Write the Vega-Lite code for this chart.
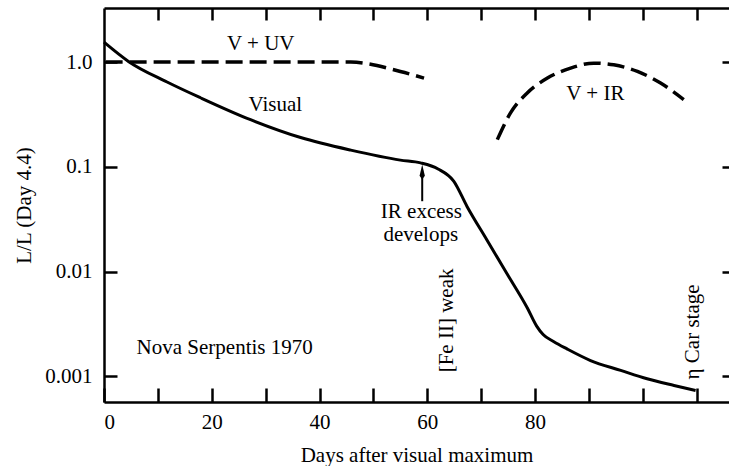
{
  "$schema": "https://vega.github.io/schema/vega-lite/v6.json",
  "width": 625,
  "height": 394,
  "autosize": {"type": "none"},
  "padding": {"left": 104, "top": 8, "right": 0, "bottom": 64},
  "background": "white",
  "config": {
    "view": {"stroke": null},
    "font": "Liberation Serif",
    "axis": {
      "grid": false,
      "domainColor": "black",
      "domainWidth": 2.5,
      "tickColor": "black",
      "tickWidth": 2.5,
      "labelFont": "Liberation Serif",
      "labelFontSize": 21,
      "labelColor": "black",
      "titleFont": "Liberation Serif",
      "titleFontSize": 21,
      "titleFontWeight": "normal",
      "titleColor": "black"
    }
  },
  "resolve": {"axis": {"x": "independent", "y": "independent"}},
  "datasets": {
    "curves": [
      {"series": "Visual", "day": 0, "value": 1.55},
      {"series": "Visual", "day": 4.6, "value": 1.01},
      {"series": "Visual", "day": 11.7, "value": 0.646},
      {"series": "Visual", "day": 17.9, "value": 0.457},
      {"series": "Visual", "day": 27.2, "value": 0.282},
      {"series": "Visual", "day": 36.5, "value": 0.1905},
      {"series": "Visual", "day": 45.8, "value": 0.1445},
      {"series": "Visual", "day": 55.0, "value": 0.116},
      {"series": "Visual", "day": 58.75, "value": 0.1091},
      {"series": "Visual", "day": 62.0, "value": 0.0955},
      {"series": "Visual", "day": 64.9, "value": 0.0731},
      {"series": "Visual", "day": 67.4, "value": 0.0417},
      {"series": "Visual", "day": 71.1, "value": 0.01995},
      {"series": "Visual", "day": 74.8, "value": 0.00955},
      {"series": "Visual", "day": 78.55, "value": 0.00452},
      {"series": "Visual", "day": 80.3, "value": 0.00302},
      {"series": "Visual", "day": 81.5, "value": 0.00251},
      {"series": "Visual", "day": 83.5, "value": 0.00214},
      {"series": "Visual", "day": 86.0, "value": 0.00182},
      {"series": "Visual", "day": 90.3, "value": 0.001416},
      {"series": "Visual", "day": 95.9, "value": 0.00114},
      {"series": "Visual", "day": 100.8, "value": 0.000948},
      {"series": "Visual", "day": 105.8, "value": 0.000819},
      {"series": "Visual", "day": 109.8, "value": 0.000734},
      {"series": "V + UV", "day": 0.3, "value": 1.0},
      {"series": "V + UV", "day": 20, "value": 1.0},
      {"series": "V + UV", "day": 45.8, "value": 1.0},
      {"series": "V + UV", "day": 55.0, "value": 0.814},
      {"series": "V + UV", "day": 59.4, "value": 0.704},
      {"series": "V + IR", "day": 73.0, "value": 0.182},
      {"series": "V + IR", "day": 75.45, "value": 0.327},
      {"series": "V + IR", "day": 78.55, "value": 0.507},
      {"series": "V + IR", "day": 82.3, "value": 0.704},
      {"series": "V + IR", "day": 86.6, "value": 0.877},
      {"series": "V + IR", "day": 90.9, "value": 0.978},
      {"series": "V + IR", "day": 94.6, "value": 0.942},
      {"series": "V + IR", "day": 99.0, "value": 0.814},
      {"series": "V + IR", "day": 103.3, "value": 0.631},
      {"series": "V + IR", "day": 107.6, "value": 0.438}
    ],
    "notes": [
      {"text": "V + UV", "day": 29.1, "value": 1.31},
      {"text": "Visual", "day": 31.8, "value": 0.339},
      {"text": "V + IR", "day": 91.2, "value": 0.438},
      {"text": "IR excess", "day": 58.9, "value": 0.0328},
      {"text": "develops", "day": 58.8, "value": 0.0196},
      {"text": "Nova Serpentis 1970", "day": 22.4, "value": 0.00164}
    ],
    "vnotes": [
      {"text": "[Fe II] weak", "day": 64.7, "value": 0.00342},
      {"text": "η Car stage", "day": 110.4, "value": 0.002656}
    ],
    "arrow": [
      {"day": 59.06, "value": 0.047},
      {"day": 59.06, "value": 0.092}
    ],
    "arrowhead": [
      {"day": 59.06, "value": 0.0894}
    ]
  },
  "layer": [
    {
      "data": {"name": "curves"},
      "transform": [{"filter": "datum.series == 'Visual'"}],
      "mark": {"type": "line", "interpolate": "monotone", "color": "black", "strokeWidth": 3},
      "encoding": {
        "x": {
          "field": "day", "type": "quantitative",
          "scale": {"domain": [0, 116], "nice": false, "zero": false},
          "axis": {
            "orient": "bottom",
            "values": [0, 10, 20, 30, 40, 50, 60, 70, 80, 90, 100, 110],
            "labelExpr": "(datum.value <= 80 && datum.value % 20 == 0) ? '' + datum.value : ''",
            "tickSize": -14,
            "labelPadding": 23,
            "title": "Days after visual maximum",
            "titlePadding": 12
          }
        },
        "y": {
          "field": "value", "type": "quantitative",
          "scale": {"type": "log", "domain": [0.000569, 3.286], "nice": false},
          "axis": {
            "orient": "left",
            "values": [1, 0.1, 0.01, 0.001],
            "labelExpr": "datum.value == 1 ? '1.0' : datum.value == 0.1 ? '0.1' : datum.value == 0.01 ? '0.01' : '0.001'",
            "tickSize": -13,
            "labelPadding": 25,
            "title": "L/L (Day 4.4)",
            "titlePadding": 10
          }
        }
      }
    },
    {
      "data": {"name": "curves"},
      "transform": [{"filter": "datum.series != 'Visual'"}],
      "mark": {"type": "line", "interpolate": "monotone", "color": "black", "strokeWidth": 3.5, "strokeDash": [17, 7]},
      "encoding": {
        "x": {
          "field": "day", "type": "quantitative",
          "axis": {
            "orient": "top",
            "values": [10, 20, 30, 40, 50, 60, 70, 80, 90, 100, 110],
            "labels": false,
            "tickSize": -12,
            "title": null
          }
        },
        "y": {
          "field": "value", "type": "quantitative",
          "axis": {
            "orient": "right",
            "values": [1, 0.1, 0.01, 0.001],
            "labels": false,
            "domain": false,
            "tickSize": -7,
            "title": null
          }
        },
        "detail": {"field": "series", "type": "nominal"}
      }
    },
    {
      "data": {"name": "arrow"},
      "mark": {"type": "line", "color": "black", "strokeWidth": 2},
      "encoding": {
        "x": {"field": "day", "type": "quantitative", "axis": null},
        "y": {"field": "value", "type": "quantitative", "axis": null}
      }
    },
    {
      "data": {"name": "arrowhead"},
      "mark": {"type": "point", "shape": "M0,-1L0.35,0.5L0,1L-0.35,0.5Z", "filled": true, "color": "black", "size": 225, "opacity": 1},
      "encoding": {
        "x": {"field": "day", "type": "quantitative", "axis": null},
        "y": {"field": "value", "type": "quantitative", "axis": null}
      }
    },
    {
      "data": {"name": "notes"},
      "mark": {"type": "text", "font": "Liberation Serif", "fontSize": 21, "color": "black", "align": "center", "baseline": "alphabetic"},
      "encoding": {
        "x": {"field": "day", "type": "quantitative", "axis": null},
        "y": {"field": "value", "type": "quantitative", "axis": null},
        "text": {"field": "text", "type": "nominal"}
      }
    },
    {
      "data": {"name": "vnotes"},
      "mark": {"type": "text", "font": "Liberation Serif", "fontSize": 21, "color": "black", "align": "center", "baseline": "alphabetic", "angle": 270},
      "encoding": {
        "x": {"field": "day", "type": "quantitative", "axis": null},
        "y": {"field": "value", "type": "quantitative", "axis": null},
        "text": {"field": "text", "type": "nominal"}
      }
    }
  ]
}
